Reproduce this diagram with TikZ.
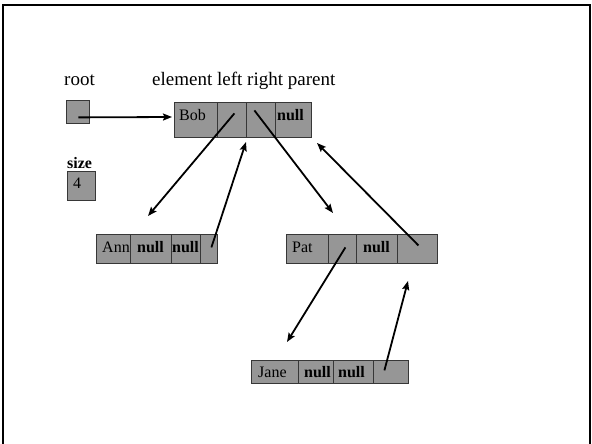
\documentclass[tikz,border=0pt]{standalone}
\usepackage{fontspec}
\setmainfont{Liberation Serif}
\usetikzlibrary{arrows.meta}
\definecolor{cellfill}{RGB}{150,150,150}
\definecolor{celledge}{RGB}{55,55,55}
\tikzset{
  cell/.style={draw=celledge, fill=cellfill, line width=0.8pt, inner sep=0pt,
               anchor=north west, minimum height=#1},
  cell/.default=29pt,
  txt/.style={inner sep=0pt, anchor=base west, font=\fontsize{16}{18}\selectfont},
  btxt/.style={txt, font=\fontsize{16}{18}\selectfont\bfseries},
  head/.style={inner sep=0pt, anchor=base west, font=\fontsize{19}{22}\selectfont},
  link/.style={line width=1.8pt, -{Stealth[length=9pt,width=7pt,inset=1.5pt]}},
}
\begin{document}
\begin{tikzpicture}[x=1pt,y=-1pt]
\useasboundingbox (0,0) rectangle (592,444);
% slide frame (open at the bottom)
\draw[line width=2pt] (3,444) -- (3,5) -- (590,5) -- (590,444);

% headings
\node[head] (hroot) at (64,85) {root};
\node[head] (hfields) at (152,85) {element left right parent};

% root reference and size counter
\node[cell=23pt, minimum width=23pt] (root) at (66,100) {};
\node[btxt] (hsize) at (67,168) {size};
\node[cell=29pt, minimum width=28pt] (size) at (67,171) {};
\node[txt] (sizev) at (73,188) {4};

% Bob
\node[cell=35pt, minimum width=43pt] (bobE) at (174,102) {};
\node[cell=35pt, minimum width=29pt] (bobL) at (217,102) {};
\node[cell=35pt, minimum width=29pt] (bobR) at (246,102) {};
\node[cell=35pt, minimum width=36pt] (bobP) at (275,102) {};
\node[txt]  (bobEt) at (179,121) {Bob};
\node[btxt] (bobPt) at (277,121) {null};

% Ann
\node[cell, minimum width=34pt] (annE) at (96,234) {};
\node[cell, minimum width=41pt] (annL) at (130,234) {};
\node[cell, minimum width=29pt] (annR) at (171,234) {};
\node[cell, minimum width=17pt] (annP) at (200,234) {};
\node[txt]  (annEt) at (102,252) {Ann};
\node[btxt] (annLt) at (137,252) {null};
\node[btxt] (annRt) at (172,252) {null};

% Pat
\node[cell, minimum width=42pt] (patE) at (286,234) {};
\node[cell, minimum width=28pt] (patL) at (328,234) {};
\node[cell, minimum width=41pt] (patR) at (356,234) {};
\node[cell, minimum width=40pt] (patP) at (397,234) {};
\node[txt]  (patEt) at (292,252) {Pat};
\node[btxt] (patRt) at (363,252) {null};

% Jane
\node[cell=23pt, minimum width=47pt] (janeE) at (251,360) {};
\node[cell=23pt, minimum width=35pt] (janeL) at (298,360) {};
\node[cell=23pt, minimum width=40pt] (janeR) at (333,360) {};
\node[cell=23pt, minimum width=35pt] (janeP) at (373,360) {};
\node[txt]  (janeEt) at (258,377) {Jane};
\node[btxt] (janeLt) at (304,377) {null};
\node[btxt] (janeRt) at (338,377) {null};

% arrow ends
\coordinate (toBob)    at (172,117);
\coordinate (toAnn)    at (148,216);
\coordinate (toBobL)   at (246,142);
\coordinate (toPat)    at (333,213);
\coordinate (toBobP)   at (317,143);
\coordinate (toJane)   at (287,342);
\coordinate (toPatP)   at (408,281);

% links
\draw[link] ([shift={(0.5,5.5)}]root.center) -- (toBob);
\draw[link] ([shift={(2.5,-6.5)}]bobL.center) -- (toAnn);
\draw[link] ([shift={(2.5,-1.5)}]annP.center) -- (toBobL);
\draw[link] ([shift={(-6.5,-9.5)}]bobR.center) -- (toPat);
\draw[link] ([shift={(1,-3.5)}]patP.center) -- (toBobP);
\draw[link] ([shift={(3,-1.5)}]patL.center) -- (toJane);
\draw[link] ([shift={(-6.5,-1.5)}]janeP.center) -- (toPatP);
\end{tikzpicture}
\end{document}
